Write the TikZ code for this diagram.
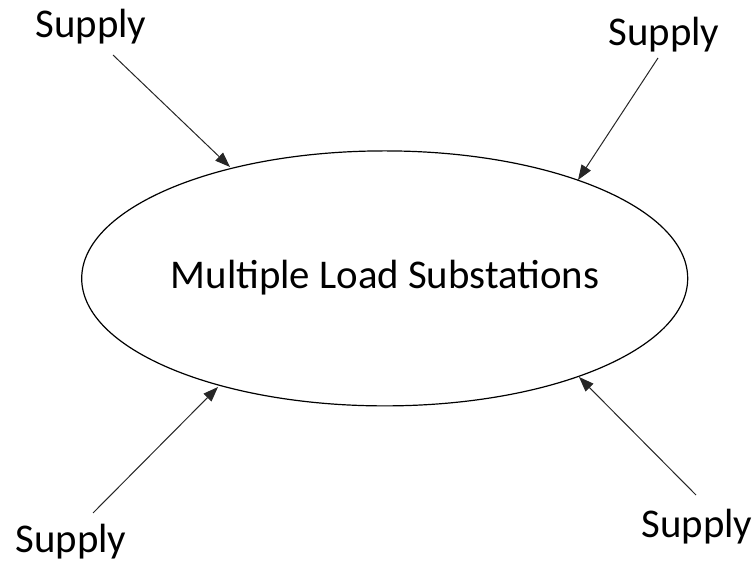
\documentclass[tikz,border=0pt]{standalone}
\usepackage{fontspec}
\setmainfont{Carlito}
\usetikzlibrary{arrows.meta,shapes.geometric}
\begin{document}
\begin{tikzpicture}[x=1pt,y=1pt,
  lbl/.style={inner sep=0pt,font=\fontsize{40.8}{46}\selectfont},
  feed/.style={draw=black!85,line width=1pt,-{Triangle[length=15pt,width=11pt]}}]
\useasboundingbox (0,0) rectangle (753,562);
\node[ellipse,draw,line width=1.2pt,minimum width=606pt,minimum height=255pt,inner sep=0pt]
  (sub) at (384.7,283.6) {};
\node[lbl] (main) at (385,284) {Multiple Load Substations};
\node[lbl] (s1) at (91,535.5) {Supply};
\node[lbl] (s2) at (664,527) {Supply};
\node[lbl] (s3) at (71,20) {Supply};
\node[lbl] (s4) at (697,35) {Supply};
\coordinate (a1) at (113,507);
\coordinate (e1) at (230,395);
\coordinate (a2) at (658,504);
\coordinate (e2) at (578,382);
\coordinate (a3) at (93,49);
\coordinate (e3) at (218,175);
\coordinate (a4) at (696,67);
\coordinate (e4) at (579,185);
\draw[feed] (a1) -- (e1);
\draw[feed] (a2) -- (e2);
\draw[feed] (a3) -- (e3);
\draw[feed] (a4) -- (e4);
\end{tikzpicture}
\end{document}
